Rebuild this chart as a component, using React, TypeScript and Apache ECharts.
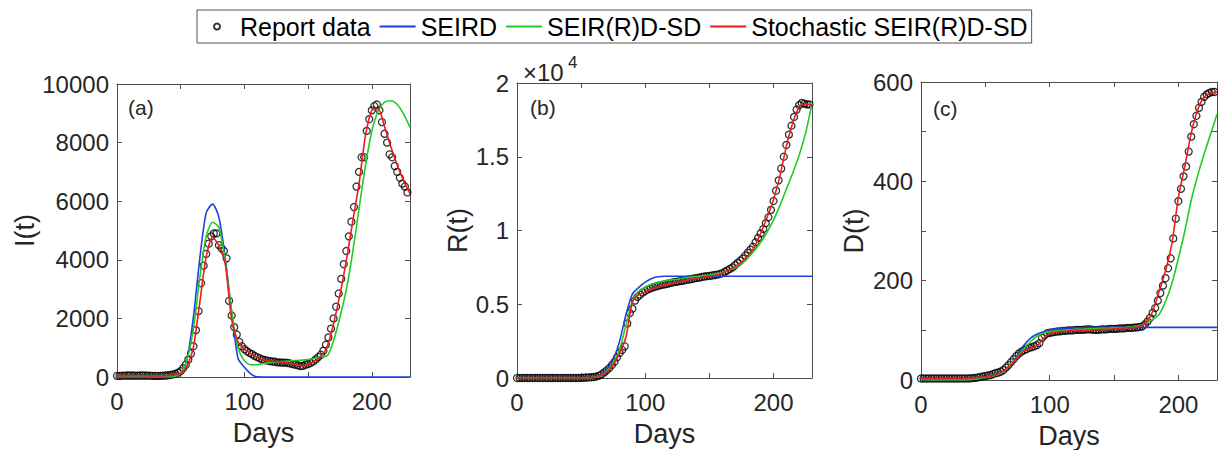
import { useRef, useEffect } from "react";
import * as echarts from "echarts";

const FONT = "'Liberation Sans', Arial, Helvetica, sans-serif";
const TEXT = "#262626";
const AXIS = "#4d4d4d";

// days of the model curves and of the reported data
const lineDays = [
  0, 5, 10, 15, 20, 25, 30, 35, 40, 45, 50, 55, 60, 65, 70, 75, 80, 85, 90, 95,
  100, 105, 110, 115, 120, 125, 130, 135, 140, 145, 150, 155, 160, 165, 170,
  175, 180, 185, 190, 195, 200, 205, 210, 215, 220, 225, 230,
];
const dataDays = [
  0, 2, 4, 6, 8, 10, 12, 14, 16, 18, 20, 22, 24, 26, 28, 30, 32, 34, 36, 38,
  40, 42, 44, 46, 48, 50, 52, 54, 56, 58, 60, 62, 64, 66, 68, 70, 72, 74, 76,
  78, 80, 82, 84, 86, 88, 90, 92, 94, 96, 98, 100, 102, 104, 106, 108, 110,
  112, 114, 116, 118, 120, 122, 124, 126, 128, 130, 132, 134, 136, 138, 140,
  142, 144, 146, 148, 150, 152, 154, 156, 158, 160, 162, 164, 166, 168, 170,
  172, 174, 176, 178, 180, 182, 184, 186, 188, 190, 192, 194, 196, 198, 200,
  202, 204, 206, 208, 210, 212, 214, 216, 218, 220, 222, 224, 226, 228,
];

// (a) I(t)
const reportI = [
  40, 40, 45, 45, 50, 50, 50, 45, 45, 50, 50, 50, 45, 45, 40, 40, 40, 40, 45, 50,
  60, 70, 90, 110, 150, 200, 300, 420, 600, 800,
  1050, 1600, 2250, 3200, 3800, 4200, 4550, 4800, 4900, 4900,
  4500, 4400, 4300, 4050, 2600, 2100, 1700, 1450, 1200, 1050,
  950, 880, 820, 780, 720, 680, 640, 600, 580, 560,
  540, 530, 520, 500, 500, 490, 490, 480, 460, 440,
  420, 400, 370, 380, 420, 440, 480, 530, 600, 680,
  760, 900, 1100, 1350, 1650, 2000, 2400, 2850, 3350, 3850,
  4300, 4800, 5300, 5800, 6500, 7000, 7500, 7500, 8400, 8800,
  9100, 9250, 9300, 9100, 8700, 8300, 8000, 7600, 7500, 7200,
  7000, 6800, 6600, 6500, 6300,
];
const seirdI = [
  0, 0, 0, 0, 0, 0, 0, 0, 5, 20, 100, 620, 2050, 4050, 5600, 5900, 5450, 4050,
  2200, 640, 330, 110, 5, 0, 0, 0, 0, 0, 0, 0, 0, 0, 0, 0, 0, 0, 0, 0, 0, 0, 0,
  0, 0, 0, 0, 0, 0,
];
const sdI = [
  0, 0, 0, 0, 0, 0, 0, 0, 0, 20, 130, 600, 1650, 3400, 4800, 5280, 5100, 3950,
  2250, 1000, 550, 420, 420, 460, 490, 510, 530, 545, 560, 575, 600, 640, 690,
  720, 1240, 2040, 2980, 4250, 5750, 7200, 8380, 9080, 9380, 9430, 9300, 8970,
  8520,
];
const stochI = [
  40, 40, 45, 45, 45, 40, 40, 40, 50, 70, 120, 370, 1030, 2550, 4100, 4770,
  4480, 3850, 1950, 1200, 950, 800, 680, 580, 540, 520, 510, 480, 440, 380, 420,
  540, 700, 1030, 1820, 2800, 3970, 5300, 6600, 8230, 9100, 9150, 8550, 7850,
  7230, 6700, 6250,
];

// (b) R(t)
const reportR = [
  0, 0, 0, 0, 0, 0, 0, 0, 0, 0, 0, 0, 0, 0, 0, 0, 0, 0, 0, 0, 0, 0, 0, 0, 0, 10,
  20, 30, 40, 50,
  70, 100, 160, 250, 380, 520, 680, 880, 1100, 1400,
  1700, 1900, 2150, 3700, 4400, 4700, 5250, 5500, 5650, 5800,
  5900, 6000, 6080, 6150, 6200, 6250, 6300, 6330, 6370, 6400,
  6450, 6500, 6520, 6550, 6580, 6600, 6650, 6680, 6700, 6750,
  6780, 6800, 6850, 6880, 6900, 6920, 6950, 6980, 7000, 7050,
  7100, 7200, 7300, 7400, 7500, 7650, 7800, 7950, 8100, 8300,
  8500, 8700, 8900, 9200, 9500, 9800, 10100, 10500, 10900, 11400,
  12000, 12700, 13400, 14200, 15000, 15800, 16500, 17100, 17700, 18200,
  18500, 18650, 18600, 18550, 18550,
];
const seirdR = [
  0, 0, 0, 0, 0, 0, 0, 0, 0, 0, 0, 0, 30, 220, 600, 1240, 2500, 4300, 5700,
  6150, 6500, 6750, 6860, 6900, 6900, 6900, 6900, 6900, 6900, 6900, 6900, 6900,
  6900, 6900, 6900, 6900, 6900, 6900, 6900, 6900, 6900, 6900, 6900, 6900, 6900,
  6900, 6900,
];
const sdR = [
  0, 0, 0, 0, 0, 0, 0, 0, 0, 0, 0, 0, 40, 150, 450, 1000, 1950, 3600, 5200,
  5880, 6150, 6350, 6480, 6580, 6650, 6700, 6780, 6830, 6880, 6930, 6980, 7060,
  7150, 7300, 7450, 7750, 8150, 8650, 9200, 9900, 10700, 11700, 12800, 13900,
  15100, 16600, 18600,
];
const stochR = [
  0, 0, 0, 0, 0, 0, 0, 0, 0, 0, 0, 0, 30, 150, 400, 900, 1690, 2800, 5150,
  5650, 5830, 6000, 6150, 6280, 6380, 6480, 6580, 6700, 6780, 6850, 6920, 6970,
  7100, 7300, 7550, 7850, 8300, 8850, 9800, 10900, 12100, 13700, 15700, 17300,
  18380, 18560, 18500,
];

// (c) D(t)
const reportD = [
  3, 3, 3, 3, 3, 3, 3, 3, 3, 3, 3, 3, 3, 3, 3, 3, 3, 3, 3, 3,
  4, 4, 5, 6, 7, 8, 9, 10, 12, 14,
  15, 17, 20, 25, 30, 36, 42, 48, 53, 57,
  60, 62, 65, 66, 68, 70, 74, 85, 90, 94,
  95, 96, 97, 98, 98, 99, 99, 100, 100, 100,
  101, 101, 101, 101, 102, 102, 102, 101, 101, 101,
  102, 102, 102, 103, 103, 103, 103, 104, 104, 104,
  105, 105, 105, 106, 106, 107, 108, 112, 118, 125,
  135, 145, 160, 175, 190, 205, 225, 245, 285, 325,
  360, 385, 410, 430, 460, 490, 515, 532, 548, 560,
  570, 575, 578, 580, 580,
];
const seirdD = [
  0, 0, 0, 0, 0, 0, 0, 0, 2, 4, 6, 8, 12, 20, 33, 50, 70, 84, 92, 97, 101, 103,
  104, 104, 105, 105, 106, 106, 106, 106, 106, 106, 106, 106, 106, 106, 106,
  106, 106, 106, 106, 106, 106, 106, 106, 106, 106,
];
const sdD = [
  0, 0, 0, 0, 0, 0, 0, 0, 1, 3, 5, 7, 11, 18, 33, 47, 63, 77, 88, 94, 97, 99,
  100, 101, 102, 102, 103, 103, 104, 104, 105, 105, 106, 107, 110, 114, 122,
  132, 158, 195, 245, 300, 362, 412, 455, 495, 535,
];
const stochD = [
  3, 3, 3, 3, 3, 3, 3, 3, 4, 5, 6, 8, 12, 20, 30, 46, 58, 63, 68, 83, 93, 96,
  98, 99, 100, 100, 100, 101, 102, 102, 103, 104, 105, 106, 108, 116, 138, 178,
  220, 275, 368, 430, 497, 544, 570, 578, 580,
];

const seriesNames = [
  "Report data",
  "SEIRD",
  "SEIR(R)D-SD",
  "Stochastic SEIR(R)D-SD",
];
const lineColors = ["#1f3fe0", "#22cc22", "#ee1c1c"];

const grids = [
  { left: 117, top: 84, width: 293, height: 293, outerBoundsMode: "none" },
  { left: 517, top: 83, width: 295, height: 295, outerBoundsMode: "none" },
  { left: 921, top: 82, width: 296, height: 298, outerBoundsMode: "none" },
];

export default function App() {
  const chartRef = useRef<HTMLDivElement>(null);

  useEffect(() => {
    if (!chartRef.current) return;
    const chart = echarts.init(chartRef.current, null, { renderer: "svg" });

    const panels = [
      {
        report: reportI,
        lines: [seirdI, sdI, stochI],
        max: 10000,
        interval: 2000,
        name: "I(t)",
        nameGap: 78,
        label: (v: number) => String(v),
      },
      {
        report: reportR,
        lines: [seirdR, sdR, stochR],
        max: 20000,
        interval: 5000,
        name: "R(t)",
        nameGap: 43,
        label: (v: number) => String(v / 10000),
      },
      {
        report: reportD,
        lines: [seirdD, sdD, stochD],
        max: 600,
        interval: 100,
        name: "D(t)",
        nameGap: 54,
        label: (v: number) => (v % 200 === 0 ? String(v) : ""),
      },
    ];

    const axisLine = { show: true, onZero: false, lineStyle: { color: AXIS, width: 1 } };
    const axisTick = { show: true, inside: true, length: 5, lineStyle: { color: AXIS } };
    const labelStyle = { fontSize: 24, color: TEXT, fontFamily: FONT };

    const xAxis: any[] = [];
    const yAxis: any[] = [];
    panels.forEach((p, i) => {
      xAxis.push({
        gridIndex: i,
        type: "value",
        min: 0,
        max: 230,
        interval: 50,
        position: "bottom",
        axisLine,
        axisTick,
        splitLine: { show: false },
        axisLabel: {
          ...labelStyle,
          margin: 12,
          formatter: (v: number) => (v % 100 === 0 ? String(v) : ""),
        },
        name: "Days",
        nameLocation: "middle",
        nameGap: 42,
        nameTextStyle: { fontSize: 27, color: TEXT, fontFamily: FONT },
      });
      yAxis.push({
        gridIndex: i,
        type: "value",
        min: 0,
        max: p.max,
        interval: p.interval,
        position: "left",
        axisLine,
        axisTick,
        splitLine: { show: false },
        axisLabel: { ...labelStyle, margin: 8, formatter: p.label },
        name: p.name,
        nameLocation: "middle",
        nameGap: p.nameGap,
        nameTextStyle: { fontSize: 27, color: TEXT, fontFamily: FONT },
      });
    });
    panels.forEach((p, i) => {
      xAxis.push({
        gridIndex: i,
        type: "value",
        min: 0,
        max: 230,
        interval: 50,
        position: "top",
        axisLine,
        axisTick,
        splitLine: { show: false },
        axisLabel: { show: false },
      });
      yAxis.push({
        gridIndex: i,
        type: "value",
        min: 0,
        max: p.max,
        interval: p.interval,
        position: "right",
        axisLine,
        axisTick,
        splitLine: { show: false },
        axisLabel: { show: false },
      });
    });

    const series: any[] = [];
    panels.forEach((p, i) => {
      series.push({
        name: seriesNames[0],
        type: "scatter",
        xAxisIndex: i,
        yAxisIndex: i,
        data: dataDays.map((d, k) => [d, p.report[k]]),
        symbol: "circle",
        symbolSize: 7,
        itemStyle: { color: "rgba(0,0,0,0)", borderColor: "#000", borderWidth: 1.3 },
        z: 2,
      });
      p.lines.forEach((vals, j) => {
        series.push({
          name: seriesNames[j + 1],
          type: "line",
          xAxisIndex: i,
          yAxisIndex: i,
          data: lineDays.map((d, k) => [d, vals[k]]),
          symbol: "none",
          smooth: 0.25,
          lineStyle: { color: lineColors[j], width: 1.6 },
          itemStyle: { color: lineColors[j] },
          z: 3 + j,
        });
      });
    });

    const panelLabel = (text: string, left: number, top: number) => ({
      type: "text",
      left,
      top,
      style: { text, fontSize: 21, fill: TEXT, fontFamily: FONT },
    });

    chart.setOption({
      animation: false,
      backgroundColor: "#fff",
      textStyle: { fontFamily: FONT },
      grid: grids,
      xAxis,
      yAxis,
      series,
      legend: {
        data: [
          { name: seriesNames[0] },
          { name: seriesNames[1], itemStyle: { opacity: 0 } },
          { name: seriesNames[2], itemStyle: { opacity: 0 } },
          { name: seriesNames[3], itemStyle: { opacity: 0 } },
        ],
        top: 10,
        left: 197,
        orient: "horizontal",
        padding: [4, 4, 4, 16],
        itemGap: 8,
        itemWidth: 36,
        itemHeight: 6,
        borderColor: "#555",
        borderWidth: 1,
        backgroundColor: "#fff",
        selectedMode: false,
        textStyle: { fontSize: 25, color: "#000", fontFamily: FONT },
      },
      graphic: [
        panelLabel("(a)", 128, 97),
        panelLabel("(b)", 530, 97),
        panelLabel("(c)", 933, 98),
        {
          type: "text",
          left: 523,
          top: 60,
          style: { text: "×10", fontSize: 24, fill: TEXT, fontFamily: FONT },
        },
        {
          type: "text",
          left: 568,
          top: 54,
          style: { text: "4", fontSize: 17, fill: TEXT, fontFamily: FONT },
        },
      ],
    });

    return () => {
      chart.dispose();
    };
  }, []);

  return (
    <div
      ref={chartRef}
      style={{ position: "fixed", left: 0, top: 0, width: "1218px", height: "450px" }}
    />
  );
}
